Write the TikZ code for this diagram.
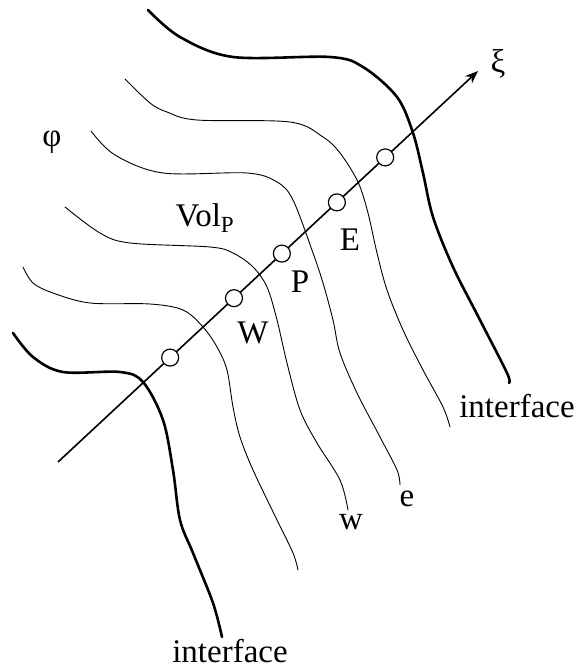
\documentclass[tikz,border=0pt]{standalone}
\usepackage{fontspec}
\setmainfont{Liberation Serif}
\usetikzlibrary{arrows.meta,calc}
\tikzset{
  iface/.style={line width=2.6pt, line cap=round, line join=round},
  cvline/.style={line width=0.9pt, line cap=round},
  axisline/.style={line width=1.6pt, -{Stealth[length=13pt,width=10pt]}},
  gridpt/.style={circle, draw, line width=1.2pt, fill=white,
                 minimum size=17pt, inner sep=0pt},
  lbl/.style={font=\fontsize{33}{36}\selectfont, inner sep=0pt},
}

\begin{document}
\begin{tikzpicture}[x=1pt,y=-1pt]
    \useasboundingbox (0,0) rectangle (579,668);
    % interfaces
    \draw[iface] plot[smooth, tension=0.55] coordinates {(148,10) (180,37) (233,57) (330,57) (363,67) (397,97) (413,133) (423,173) (433,217) (453,267) (480,320) (507,373) (509,383)};
    \draw[iface] plot[smooth, tension=0.55] coordinates {(13,333) (33,357) (63,372) (120,372) (143,382) (163,420) (173,470) (180,520) (193,553) (213,603) (222,637)};
    % control volume faces
    \draw[cvline] plot[smooth, tension=0.55] coordinates {(125,79) (150,103) (167,112) (197,120) (290,122) (323,137) (340,153) (358,182) (368,213) (377,253) (387,290) (403,330) (423,370) (443,407) (450,427)};
    \draw[cvline] plot[smooth, tension=0.55] coordinates {(91,131) (115,155) (163,173) (247,173) (277,182) (293,200) (313,253) (323,283) (333,320) (340,353) (357,393) (380,437) (397,470) (400,485)};
    \draw[cvline] plot[smooth, tension=0.55] coordinates {(65,207) (100,233) (130,243) (210,247) (233,253) (253,267) (267,287) (277,320) (287,363) (300,410) (317,443) (340,480) (348,510)};
    \draw[cvline] plot[smooth, tension=0.55] coordinates {(23,267) (33,283) (53,293) (90,303) (150,304) (183,310) (203,327) (217,347) (227,370) (233,407) (240,437) (253,470) (277,520) (293,553) (298,570)};
    % xi axis
    \coordinate (xi0) at (58,462);
    \coordinate (xi1) at (478,71);
    \draw[axisline] (xi0) -- (xi1);
    \node[gridpt] (nWW) at ($(xi0)!0.267!(xi1)$) {};
    \node[gridpt] (nW)  at ($(xi0)!0.419!(xi1)$) {};
    \node[gridpt] (nP)  at ($(xi0)!0.533!(xi1)$) {};
    \node[gridpt] (nE)  at ($(xi0)!0.664!(xi1)$) {};
    \node[gridpt] (nEE) at ($(xi0)!0.779!(xi1)$) {};
    % labels
    \node[lbl] (lxi)  at (498,64)  {ξ};
    \node[lbl] (lphi) at (52,142)  {φ};
    \node[lbl] (lvol) at (205,218) {Vol\textsubscript{P}};
    \node[lbl] (lW)   at (253,333) {W};
    \node[lbl] (lP)   at (300,282) {P};
    \node[lbl] (lE)   at (350,240) {E};
    \node[lbl] (lw)   at (351,522) {w};
    \node[lbl] (le)   at (407,499) {e};
    \node[lbl] (lif1) at (517,406) {interface};
    \node[lbl, anchor=base] (lif2) at (230,662) {interface};
  \end{tikzpicture}
\end{document}
